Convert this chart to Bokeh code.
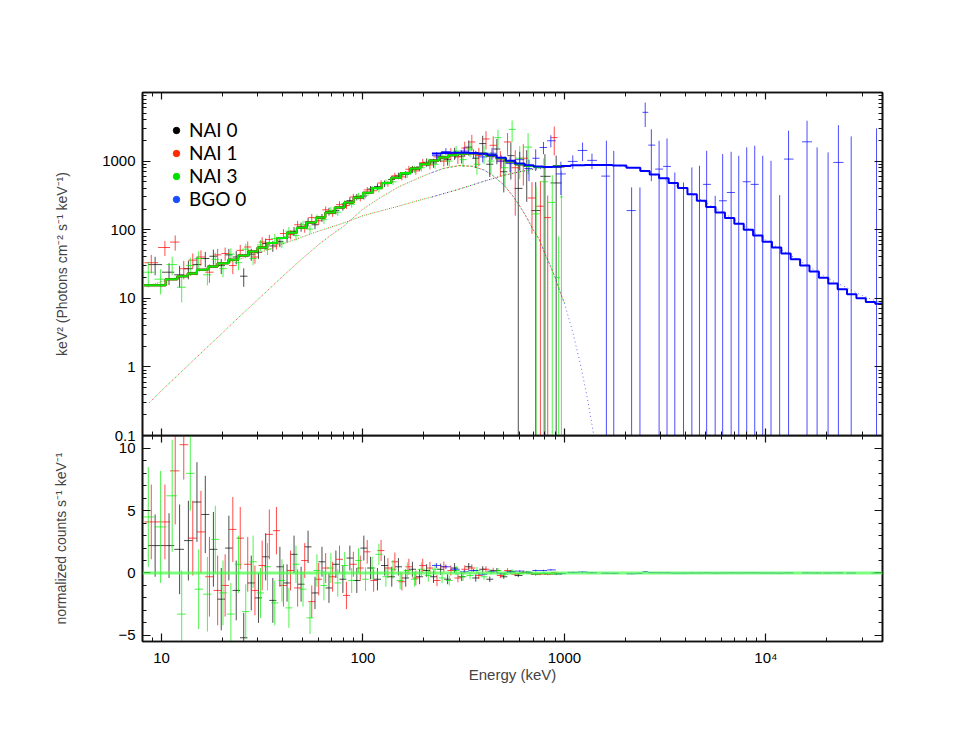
import numpy as np
from bokeh.plotting import figure
from bokeh.models import (Range1d, LogAxis, LinearAxis, FixedTicker, Legend,
                          LegendItem, Span)
from bokeh.layouts import column
from bokeh.embed import file_html
from bokeh.resources import INLINE

# ---------------- data ----------------
NAI0_E = [9.3, 10.9, 12.3, 13.6, 15.0, 16.5, 18.1, 19.8, 21.6, 23.5, 25.6, 27.9, 30.3, 32.9, 35.7,
          38.7, 42.0, 45.5, 49.3, 53.4, 57.8, 62.6, 67.8, 73.4, 79.5, 86.1, 93.2, 101, 109, 118,
          128, 139, 150, 163, 176, 191, 207, 224, 243, 263, 285, 309, 335, 363, 393, 426, 462,
          500, 542, 590, 650, 720, 800, 910]
NAI0_F = [31, 24, 22, 27, 31, 38, 41, 30, 43, 40, 21, 44, 47, 63, 58, 67, 78, 95, 110, 130,
          118, 150, 185, 190, 215, 265, 300, 310, 390, 425, 470, 540, 610, 640, 760, 820, 960,
          940, 1150, 1050, 1300, 1180, 1600, 1100, 1800, 900, 1500, 700, 1200, 400, 850, 190,
          600, 480]
NAI0_REL = [0.3, 0.35, 0.35, 0.3, 0.3, 0.25, 0.25, 0.25, 0.22, 0.22, 0.3, 0.2, 0.2, 0.18, 0.18,
            0.17, 0.16, 0.15, 0.15, 0.14, 0.14, 0.13, 0.13, 0.12, 0.12, 0.12, 0.11, 0.11, 0.11,
            0.11, 0.11, 0.11, 0.11, 0.12, 0.12, 0.13, 0.14, 0.15, 0.16, 0.18, 0.2, 0.22, 0.25,
            0.28, 0.3, 0.35, 0.4, 0.5, 0.55, 1.2, 0.7, 1.6, 1.1, 1.5]
NAI0_RES = [2.2, 2.2, 1.9, 2.6, 5.7, 4.7, 1.9, -2.1, 2.0, -1.4, -5.2, -0.8, -2.0, 1.3, -2.2,
            0.5, -0.8, 1.5, -0.9, 2.1, -1.6, 0.9, -1.2, 0.7, -0.5, 1.2, -0.6, 2.0, 0.4, -0.5,
            0.6, -0.3, 0.5, -0.4, 0.3, -0.3, 0.2, -0.3, 0.3, -0.5, 0.4, -0.3, 0.5, -0.4, 0.3,
            -0.5, 0.2, -0.3, 0.1, -0.2, 0.05, -0.1, -0.05, -0.08]
NAI0_RERR = [2.5, 2.6, 3.6, 3.2, 3.2, 3.1, 3.0, 2.5, 2.6, 2.4, 2.0, 2.2, 2.0, 1.9, 1.8, 1.6,
             1.5, 1.5, 1.4, 1.3, 1.3, 1.2, 1.2, 1.1, 1.1, 1.0, 1.0, 1.0, 0.9, 0.9, 0.8, 0.8,
             0.7, 0.7, 0.6, 0.6, 0.5, 0.5, 0.45, 0.4, 0.4, 0.35, 0.3, 0.3, 0.25, 0.22, 0.2,
             0.17, 0.15, 0.13, 0.12, 0.1, 0.09, 0.08]

NAI1_E = [8.9, 10.4, 11.7, 12.9, 14.3, 15.7, 17.3, 19.0, 20.7, 22.6, 24.6, 26.8, 29.1, 31.6,
          34.3, 37.2, 40.3, 43.7, 47.4, 51.4, 55.7, 60.3, 65.3, 70.7, 76.5, 82.8, 89.6, 97.0,
          105, 113, 123, 133, 144, 156, 169, 183, 198, 215, 233, 252, 273, 296, 320, 347, 376,
          408, 443, 481, 522, 570, 625, 690, 760, 826, 890]
NAI1_F = [33, 55, 66, 27, 36, 40, 24, 43, 45, 30, 50, 56, 40, 66, 72, 62, 88, 85, 118, 105,
          150, 135, 195, 175, 232, 225, 300, 290, 380, 370, 480, 470, 610, 590, 760, 720, 950,
          880, 1150, 1000, 1300, 1150, 1550, 1900, 1200, 2100, 1700, 1000, 1900, 800, 1100,
          290, 220, 150, 2200]
NAI1_REL = [0.3, 0.25, 0.25, 0.3, 0.25, 0.25, 0.3, 0.22, 0.22, 0.25, 0.2, 0.2, 0.2, 0.18, 0.17,
            0.17, 0.16, 0.15, 0.14, 0.14, 0.13, 0.13, 0.12, 0.12, 0.12, 0.11, 0.11, 0.11, 0.1,
            0.1, 0.1, 0.1, 0.11, 0.11, 0.12, 0.12, 0.13, 0.14, 0.15, 0.17, 0.19, 0.21, 0.24,
            0.27, 0.3, 0.3, 0.35, 0.4, 0.35, 0.8, 0.6, 0.7, 1.3, 1.1, 0.45]
NAI1_RES = [4.1, 4.1, 8.2, 10.3, 2.8, 3.3, -0.3, -1.4, -1.0, 3.5, 2.8, 0.7, -1.4, 0.6, 3.1,
            3.4, -1.0, 0.2, -1.2, 1.0, -2.3, -0.5, 0.4, -0.3, 1.1, -1.8, 0.7, 0.4, 1.7, -0.6,
            1.8, 0.4, 0.9, -0.7, 0.5, -0.4, 0.6, 0.4, -0.6, 0.5, 0.2, -0.4, 0.3, 0.4, -0.2,
            0.3, 0.2, -0.2, 0.2, -0.1, 0.05, -0.05, -0.08, -0.1, 0.02]
NAI1_RERR = [3.0, 3.0, 4.3, 2.8, 3.0, 3.3, 3.2, 2.8, 2.5, 2.6, 2.5, 2.2, 2.0, 2.0, 2.0, 1.9,
             1.7, 1.6, 1.5, 1.4, 1.3, 1.3, 1.2, 1.2, 1.1, 1.1, 1.0, 1.0, 0.95, 0.9, 0.85, 0.8,
             0.75, 0.7, 0.65, 0.6, 0.55, 0.5, 0.45, 0.42, 0.4, 0.35, 0.32, 0.3, 0.27, 0.25,
             0.22, 0.2, 0.18, 0.15, 0.13, 0.1, 0.09, 0.08, 0.07]

NAI3_E = [8.6, 9.9, 11.3, 12.6, 13.9, 15.3, 16.9, 18.5, 20.2, 22.1, 24.1, 26.2, 28.5, 31.0,
          33.6, 36.5, 39.6, 42.9, 46.5, 50.4, 54.6, 59.1, 64.0, 69.3, 75.0, 81.2, 87.9, 95.1,
          103, 111, 120, 130, 141, 153, 166, 180, 195, 211, 228, 247, 268, 290, 314, 340, 368,
          399, 432, 468, 507, 550, 600, 660, 723, 790, 870, 936, 966]
NAI3_F = [24, 19, 31, 14.5, 30, 38, 22, 37, 27, 44, 33, 52, 38, 60, 52, 74, 64, 95, 82, 118,
          102, 148, 140, 190, 180, 240, 235, 310, 320, 395, 390, 490, 500, 620, 640, 760, 800,
          960, 900, 1180, 1000, 1400, 1050, 1500, 900, 1300, 1000, 2200, 800, 2900, 1100, 1600,
          170, 500, 250, 20, 300]
NAI3_REL = [0.4, 0.4, 0.3, 0.4, 0.3, 0.28, 0.3, 0.25, 0.25, 0.22, 0.22, 0.2, 0.2, 0.18, 0.18,
            0.17, 0.16, 0.15, 0.15, 0.14, 0.14, 0.13, 0.13, 0.12, 0.12, 0.12, 0.11, 0.11, 0.11,
            0.1, 0.1, 0.1, 0.1, 0.11, 0.11, 0.12, 0.12, 0.13, 0.14, 0.15, 0.17, 0.19, 0.22,
            0.24, 0.3, 0.3, 0.35, 0.3, 0.45, 0.35, 0.5, 0.6, 1.5, 1.2, 1.5, 3.0, 1.4]
NAI3_RES = [4.5, 3.7, 6.2, -3.3, 8.0, -1.3, -1.7, 2.7, -1.6, -3.3, 0.7, -3.1, 0.9, -1.6, 0.5,
            -2.4, -0.6, -2.8, 0.7, -1.3, -3.6, 0.2, -1.0, 0.4, -0.8, 0.6, -0.6, 1.0, -0.5, 0.4,
            1.5, -0.3, 0.3, -0.6, 0.2, -0.5, 0.3, -0.2, 0.3, -0.4, -0.6, 0.2, -0.3, -0.2, 0.2,
            -0.3, 0.1, 0.2, -0.1, 0.15, -0.05, 0.05, -0.06, -0.03, -0.05, -0.04, -0.04]
NAI3_RERR = [4.0, 4.5, 4.5, 3.5, 3.0, 3.2, 3.0, 2.7, 2.6, 2.5, 2.3, 2.2, 2.1, 2.0, 1.9, 1.8,
             1.7, 1.6, 1.5, 1.4, 1.3, 1.3, 1.2, 1.2, 1.1, 1.1, 1.0, 1.0, 0.95, 0.9, 0.85, 0.8,
             0.75, 0.7, 0.65, 0.6, 0.55, 0.5, 0.45, 0.42, 0.4, 0.37, 0.34, 0.3, 0.28, 0.25,
             0.22, 0.2, 0.18, 0.15, 0.13, 0.12, 0.1, 0.09, 0.08, 0.07, 0.07]

BGO_E = [232, 258, 287, 318, 354, 393, 437, 485, 537, 600, 667, 720, 787, 856, 960, 1100, 1230,
         1370, 1615, 1757, 2155, 2370, 2517, 2700, 2950, 3230, 3530, 3900, 4290, 4680, 5080,
         5600, 6100, 6720, 7330, 8030, 8800, 9640, 10600, 11700, 12950, 16000, 17950, 20350,
         22900, 26500, 35400]
BGO_F = [1200, 1380, 1250, 1400, 1280, 1150, 1300, 1000, 920, 1050, 780, 1100, 1580, 1980, 650,
         990, 1430, 1025, 604, -400, 190, -300, 5140, 1710, 765, 837, -200, -300, -150, -100,
         458, -400, 264, 349, -300, 500, 458, -200, -300, -600, 1070, 1910, -400, -500, 957,
         -600, -700]
BGO_ERR = [145, 165, 160, 195, 190, 195, 260, 220, 230, 315, 270, 385, 320, 400, 330, 220, 430,
           260, 1380, 1810, 223, 713, 2000, 1200, 1215, 1300, 883, 788, 959, 955, 955, 712,
           1000, 1018, 1495, 1085, 1217, 1395, 1310, 919, 1700, 1970, 1985, 1840, 2390, 2890,
           3700]
BGO_RES = [0.6, 0.5, 0.3, 0.1, 0.2, -0.1, 0.15, -0.05, 0.1, 0.15, 0.05, 0.2, 0.2, 0.25, -0.05,
           0.05, 0.08, 0.02, -0.02, -0.03, -0.06, -0.03, 0.1, 0.03, 0.02, 0.02, -0.01, -0.01,
           0.0, 0.0, 0.01, -0.01, 0.0, 0.01, 0.0, 0.01, 0.01, 0.0, 0.0, -0.01, 0.01, 0.01, 0.0,
           0.0, 0.01, 0.0, 0.0]
BGO_RERR = [0.2, 0.18, 0.15, 0.13, 0.12, 0.1, 0.1, 0.09, 0.08, 0.08, 0.07, 0.07, 0.06, 0.06,
            0.05, 0.05, 0.04, 0.04, 0.04, 0.04, 0.03, 0.03, 0.03, 0.03, 0.03, 0.03, 0.02, 0.02,
            0.02, 0.02, 0.02, 0.02, 0.02, 0.02, 0.02, 0.02, 0.02, 0.02, 0.02, 0.02, 0.02, 0.02,
            0.02, 0.02, 0.02, 0.02, 0.02]

# total model, stepped over model bins
NAI_MODEL_EDGES = [8.2, 10.5, 12, 13.5, 15, 17, 19, 21.5, 24, 27, 30, 33.5, 37.5, 42, 47, 52.5,
                   58.5, 65, 72.5, 81, 90, 100, 111, 124, 138, 154, 172, 192, 214, 238, 265,
                   295, 330, 368, 410, 457, 510, 570, 636, 710, 792, 884, 1000]
NAI_MODEL_F = [15.5, 19, 21, 23, 26, 29, 32.5, 36.5, 42, 48, 55, 64, 76, 90, 107, 127, 150,
               178, 210, 250, 295, 345, 405, 480, 570, 670, 780, 900, 1020, 1130, 1220, 1280,
               1300, 1280, 1210, 1100, 990, 900, 850, 820, 820, 840]
BGO_MODEL_EDGES = [220, 245, 272, 302, 336, 373, 415, 461, 512, 569, 633, 703, 782, 869, 966,
                   1074, 1260, 1480, 1730, 2030, 2380, 2650, 2950, 3290, 3660, 4080, 4540, 5050,
                   5620, 6260, 6970, 7760, 8640, 9620, 10710, 11920, 13270, 14780, 16450, 18320,
                   20390, 22700, 25270, 28130, 31320, 34870, 38000]
BGO_MODEL_F = [1290, 1310, 1320, 1320, 1310, 1280, 1220, 1120, 1010, 920, 870, 835, 820, 830,
               850, 870, 880, 880, 860, 800, 720, 640, 560, 480, 405, 330, 265, 215, 178, 148,
               122, 100, 82, 67, 55, 45, 37, 30, 24.5, 20, 16.5, 13.5, 11.5, 10, 8.8, 8.3]

# model components (dotted)
COMP_A_E = [8.7, 10, 12, 15, 20, 25, 30, 40, 50, 60, 70, 80, 100, 120, 150, 200, 220, 250, 300,
            350, 400, 440, 500, 550, 600, 650, 700, 750, 800, 850, 900, 950, 1000, 1100, 1200,
            1300, 1400]
COMP_A_F = [0.3, 0.45, 0.75, 1.4, 3.1, 5.8, 9.5, 21, 38, 60, 85, 112, 200, 285, 420, 610, 680,
            780, 860, 840, 740, 620, 450, 320, 222, 150, 100, 72, 45, 30, 20, 12.5, 8.5, 3.2,
            1.1, 0.35, 0.1]
COMP_B_E = [8.7, 10, 15, 20, 30, 40, 60, 80, 100, 150, 200, 220, 300, 400, 500, 600, 700, 800,
            1000, 1200, 1500, 1800, 2200, 2500, 3000, 4000, 5000, 7000, 10000, 15000, 20000,
            30000, 38000]
COMP_B_F = [15.3, 17.5, 24.5, 31, 45, 62, 95, 125, 160, 220, 280, 300, 390, 510, 620, 700, 760,
            800, 850, 875, 885, 865, 800, 730, 580, 370, 250, 140, 70, 34, 20, 11, 8.3]

LABELS = ["NAI 0", "NAI 1", "NAI 3", "BGO 0"]
COLORS = ["#000000", "#ff0000", "#00ee00", "#0000ff"]
LEGEND_COLORS = ["#000000", "#ff2a00", "#00e000", "#1a4cff"]

X_TICKS = [10, 100, 1000, 10000]
X_TICK_LABELS = {10: "10", 100: "100", 1000: "1000", 10000: "10\u2074"}
Y1_TICKS = [0.1, 1, 10, 100, 1000]
Y1_TICK_LABELS = {0.1: "0.1", 1: "1", 10: "10", 100: "100", 1000: "1000"}
Y2_TICKS = [-5, 0, 5, 10]
Y2_TICK_LABELS = {-5: "\u22125", 0: "0", 5: "5", 10: "10"}

# ---------------- helpers ----------------
TICK_FONT = "Liberation Sans"
FLOOR = 1e-4
X_MINOR = [m * 10 ** k for k in range(0, 5) for m in range(2, 10)]
Y1_MINOR = [m * 10 ** k for k in range(-1, 4) for m in range(2, 10)]
Y2_MINOR = list(range(-5, 12))


def bin_edges(E, cap=None):
    E = np.asarray(E, float)
    mid = np.sqrt(E[1:] * E[:-1])
    lo = np.r_[E[0] ** 2 / mid[0], mid]
    hi = np.r_[mid, E[-1] ** 2 / mid[-1]]
    if cap is not None:
        lo = np.maximum(lo, E / cap)
        hi = np.minimum(hi, E * cap)
    return lo, hi


def style_axis(ax, labels, tin=8, mtin=4):
    ax.major_tick_in = tin
    ax.major_tick_out = 0
    ax.minor_tick_in = mtin
    ax.minor_tick_out = 0
    ax.axis_line_color = "#111111"
    ax.axis_line_width = 1.6
    ax.major_tick_line_color = "#111111"
    ax.minor_tick_line_color = "#111111"
    ax.major_tick_line_width = 1.2
    ax.minor_tick_line_width = 1
    if labels:
        ax.major_label_text_font = TICK_FONT
        ax.major_label_text_font_size = "15px"
        ax.major_label_text_color = "black"
        ax.major_label_standoff = 7
    else:
        ax.major_label_text_font_size = "1px"
        ax.major_label_text_alpha = 0
        ax.major_label_standoff = 0


x_ticker = FixedTicker(ticks=X_TICKS, minor_ticks=X_MINOR)
y1_ticker = FixedTicker(ticks=Y1_TICKS, minor_ticks=Y1_MINOR)
y2_ticker = FixedTicker(ticks=Y2_TICKS, minor_ticks=Y2_MINOR)

XR = (8.05, 37900)

# ---------------- top panel ----------------
p1 = figure(x_axis_type="log", y_axis_type="log",
            x_range=Range1d(*XR), y_range=Range1d(0.1, 1.0e4),
            frame_width=740, frame_height=343,
            min_border_left=142, min_border_right=60, min_border_top=92, min_border_bottom=10,
            output_backend="svg", toolbar_location=None)
p1.xgrid.visible = False
p1.ygrid.visible = False
p1.outline_line_color = "#111111"
p1.outline_line_width = 1.6

p1.xaxis.ticker = x_ticker
style_axis(p1.xaxis[0], labels=False, tin=7, mtin=4)
p1.yaxis.ticker = y1_ticker
p1.yaxis.major_label_overrides = Y1_TICK_LABELS
style_axis(p1.yaxis[0], labels=True, tin=8, mtin=4)
p1.yaxis.axis_label = "keV\u00b2 (Photons cm\u207b\u00b2 s\u207b\u00b9 keV\u207b\u00b9)"
p1.yaxis.axis_label_text_font = TICK_FONT
p1.yaxis.axis_label_text_font_size = "14px"
p1.yaxis.axis_label_text_font_style = "normal"
p1.yaxis.axis_label_standoff = 29

top_ax = LogAxis(ticker=x_ticker)
style_axis(top_ax, labels=False, tin=7, mtin=4)
p1.add_layout(top_ax, "above")
right_ax = LogAxis(ticker=y1_ticker)
style_axis(right_ax, labels=False, tin=8, mtin=4)
p1.add_layout(right_ax, "right")

# ---------------- bottom panel ----------------
p2 = figure(x_axis_type="log", x_range=p1.x_range, y_range=Range1d(-5.5, 11.04),
            frame_width=740, frame_height=206,
            min_border_left=142, min_border_right=60, min_border_top=0, min_border_bottom=40,
            output_backend="svg", toolbar_location=None)
p2.xgrid.visible = False
p2.ygrid.visible = False
p2.outline_line_color = "#111111"
p2.outline_line_width = 1.6
p2.background_fill_alpha = 0
p2.border_fill_alpha = 0
p2.styles = {"margin-top": "-10px"}

p2.xaxis.ticker = x_ticker
p2.xaxis.major_label_overrides = X_TICK_LABELS
style_axis(p2.xaxis[0], labels=True, tin=8, mtin=4)
p2.xaxis.major_label_standoff = 7
p2.xaxis.axis_label = "Energy (keV)"
p2.xaxis.axis_label_text_font = TICK_FONT
p2.xaxis.axis_label_text_font_size = "15px"
p2.xaxis.axis_label_text_font_style = "normal"
p2.xaxis.axis_label_standoff = -3

p2.yaxis.ticker = y2_ticker
p2.yaxis.major_label_overrides = Y2_TICK_LABELS
style_axis(p2.yaxis[0], labels=True, tin=8, mtin=4)
p2.yaxis.axis_label = "normalized counts s\u207b\u00b9 keV\u207b\u00b9"
p2.yaxis.axis_label_text_font = TICK_FONT
p2.yaxis.axis_label_text_font_size = "14px"
p2.yaxis.axis_label_text_font_style = "normal"
p2.yaxis.axis_label_standoff = 46

top_ax2 = LogAxis(ticker=x_ticker)
style_axis(top_ax2, labels=False, tin=7, mtin=4)
p2.add_layout(top_ax2, "above")
right_ax2 = LinearAxis(ticker=y2_ticker)
style_axis(right_ax2, labels=False, tin=8, mtin=4)
p2.add_layout(right_ax2, "right")

p2.add_layout(Span(location=0, dimension="width", line_color="#44ff44",
                   line_width=3, line_alpha=0.7))

# ---------------- data points ----------------
nai_sets = [
    (NAI0_E, NAI0_F, NAI0_REL, NAI0_RES, NAI0_RERR, COLORS[0]),
    (NAI1_E, NAI1_F, NAI1_REL, NAI1_RES, NAI1_RERR, COLORS[1]),
    (NAI3_E, NAI3_F, NAI3_REL, NAI3_RES, NAI3_RERR, COLORS[2]),
]
ALPHA = 0.7
for E, F, REL, RES, RERR, col in nai_sets:
    E = np.asarray(E, float)
    F = np.asarray(F, float)
    err = F * np.asarray(REL, float)
    lo, hi = bin_edges(E)
    p1.segment(x0=lo, y0=F, x1=hi, y1=F, line_color=col, line_width=1, line_alpha=ALPHA)
    p1.segment(x0=E, y0=np.maximum(F - err, FLOOR), x1=E, y1=F + err,
               line_color=col, line_width=1, line_alpha=ALPHA)
    R = np.asarray(RES, float)
    RE = np.asarray(RERR, float)
    p2.segment(x0=lo, y0=R, x1=hi, y1=R, line_color=col, line_width=1, line_alpha=ALPHA)
    p2.segment(x0=E, y0=R - RE, x1=E, y1=R + RE, line_color=col, line_width=1, line_alpha=ALPHA)

bE = np.asarray(BGO_E, float)
bF = np.asarray(BGO_F, float)
bErr = np.asarray(BGO_ERR, float)
blo, bhi = bin_edges(bE, cap=10 ** 0.025)
pos = bF > 0
p1.segment(x0=blo[pos], y0=bF[pos], x1=bhi[pos], y1=bF[pos], line_color=COLORS[3],
           line_width=1, line_alpha=ALPHA)
p1.segment(x0=bE, y0=np.maximum(bF - bErr, FLOOR), x1=bE, y1=bF + bErr,
           line_color=COLORS[3], line_width=1, line_alpha=ALPHA)
bR = np.asarray(BGO_RES, float)
bRE = np.asarray(BGO_RERR, float)
p2.segment(x0=blo, y0=bR, x1=bhi, y1=bR, line_color=COLORS[3], line_width=1, line_alpha=ALPHA)
p2.segment(x0=bE, y0=bR - bRE, x1=bE, y1=bR + bRE, line_color=COLORS[3], line_width=1,
           line_alpha=ALPHA)

# ---------------- model components (dotted) ----------------
aE = np.asarray(COMP_A_E, float)
aF = np.asarray(COMP_A_F, float)
bcE = np.asarray(COMP_B_E, float)
bcF = np.asarray(COMP_B_F, float)
for (cE, cF) in [(aE, aF), (bcE, bcF)]:
    m_nai = cE <= 1000
    m_bgo = cE >= 220
    p1.line(cE[m_nai], cF[m_nai], line_color=COLORS[1], line_dash="1 3", line_width=1,
            line_alpha=0.8)
    p1.line(cE[m_nai], cF[m_nai], line_color=COLORS[2], line_dash="1 3",
            line_dash_offset=2, line_width=1, line_alpha=0.8)
    p1.line(cE[m_bgo], cF[m_bgo], line_color=COLORS[3], line_dash="1 3", line_width=1,
            line_alpha=0.6)

# ---------------- total model steps ----------------
nE = list(NAI_MODEL_EDGES)
nF = list(NAI_MODEL_F) + [NAI_MODEL_F[-1]]
for col in COLORS[:3]:
    p1.step(nE, nF, mode="after", line_color=col, line_width=2)
gE = list(BGO_MODEL_EDGES)
gF = list(BGO_MODEL_F) + [BGO_MODEL_F[-1]]
p1.step(gE, gF, mode="after", line_color=COLORS[3], line_width=2)

# ---------------- legend ----------------
items = []
for lab, col in zip(LABELS, LEGEND_COLORS):
    # one off-scale (NaN) row so that the legend can draw its dot
    r = p1.scatter(x=[np.nan], y=[np.nan], size=7, fill_color=col, line_color=col)
    items.append(LegendItem(label=lab, renderers=[r]))
legend = Legend(items=items, location="top_left", margin=26, padding=0, spacing=0,
                glyph_width=16, glyph_height=22, label_height=22, label_standoff=5,
                label_text_font="Lato", label_text_font_size="19px",
                label_text_color="black",
                background_fill_alpha=0, border_line_alpha=0)
p1.add_layout(legend)

layout = column(p1, p2)
open("out.html", "w").write(file_html(layout, INLINE))
